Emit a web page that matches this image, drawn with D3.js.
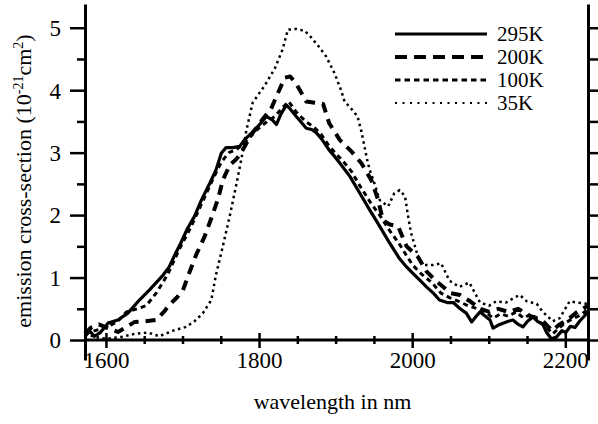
<!DOCTYPE html>
<html><head><meta charset="utf-8">
<script src="https://cdn.jsdelivr.net/npm/d3@7"></script>
<style>body{margin:0;background:#fff}svg{display:block}svg text{font-family:"Liberation Serif","DejaVu Serif",serif !important;fill:#000}</style>
</head><body><svg id="c" width="598" height="424" font-family="Liberation Serif, DejaVu Serif, serif"></svg>
<script>
const wl295=[1572,1578,1584,1592,1602,1615,1628,1643,1656,1665,1674,1682,1690,1697,1706,1715,1724,1735,1743,1750,1756,1765,1774,1780,1790,1800,1809,1817,1822,1828,1835,1840,1848,1855,1861,1868,1874,1881,1891,1898,1905,1918,1931,1944,1957,1970,1983,1992,2000,2010,2018,2027,2035,2045,2053,2062,2070,2077,2083,2088,2095,2101,2105,2112,2118,2125,2131,2138,2144,2150,2157,2163,2170,2175,2181,2188,2195,2200,2206,2212,2218,2224,2229];
const cs295=[0.05,0.15,0.06,0.12,0.27,0.32,0.43,0.64,0.80,0.92,1.04,1.17,1.38,1.55,1.79,1.98,2.24,2.51,2.72,2.99,3.08,3.08,3.10,3.20,3.32,3.45,3.58,3.52,3.45,3.62,3.76,3.70,3.58,3.48,3.39,3.37,3.32,3.22,3.04,2.94,2.83,2.62,2.35,2.08,1.82,1.55,1.30,1.17,1.07,0.95,0.85,0.75,0.64,0.60,0.60,0.50,0.43,0.29,0.38,0.45,0.38,0.32,0.19,0.24,0.27,0.30,0.32,0.25,0.21,0.30,0.37,0.30,0.25,0.12,0.02,0.05,0.15,0.12,0.22,0.20,0.30,0.38,0.45];
const wl200=[1572,1580,1590,1600,1615,1625,1637,1650,1665,1675,1682,1692,1700,1708,1717,1728,1737,1746,1752,1761,1770,1776,1790,1805,1815,1822,1833,1840,1848,1855,1861,1872,1883,1891,1905,1920,1933,1946,1955,1961,1970,1981,1992,2007,2018,2030,2040,2050,2062,2075,2088,2100,2112,2125,2138,2150,2162,2172,2182,2192,2205,2215,2229];
const cs200=[0.10,0.20,0.25,0.20,0.13,0.20,0.29,0.30,0.32,0.45,0.56,0.68,0.80,1.07,1.36,1.65,1.95,2.27,2.56,2.80,2.90,3.00,3.30,3.55,3.70,3.90,4.20,4.22,4.10,3.95,3.82,3.80,3.78,3.47,3.20,3.02,2.83,2.56,2.24,1.92,1.85,1.82,1.50,1.33,1.10,0.95,0.85,0.75,0.72,0.62,0.50,0.45,0.50,0.45,0.50,0.40,0.35,0.28,0.15,0.25,0.35,0.45,0.55];
const wl100=[1572,1585,1600,1615,1626,1640,1652,1665,1680,1695,1710,1725,1740,1750,1760,1770,1780,1795,1810,1820,1830,1838,1848,1860,1870,1880,1890,1900,1910,1920,1932,1945,1958,1970,1982,1992,2000,2012,2025,2037,2048,2060,2072,2085,2095,2105,2115,2125,2135,2145,2155,2165,2175,2183,2192,2200,2210,2220,2229];
const cs100=[0.10,0.15,0.20,0.30,0.45,0.50,0.55,0.75,1.05,1.45,1.80,2.20,2.60,2.85,3.00,3.05,3.15,3.35,3.50,3.58,3.72,3.82,3.65,3.50,3.42,3.30,3.12,2.98,2.85,2.70,2.45,2.20,1.98,1.75,1.55,1.35,1.20,1.05,0.92,0.75,0.68,0.62,0.55,0.50,0.45,0.35,0.42,0.38,0.45,0.35,0.42,0.30,0.20,0.10,0.20,0.28,0.35,0.40,0.50];
const wl35=[1572,1585,1600,1620,1637,1654,1669,1687,1704,1715,1726,1737,1743,1752,1761,1770,1776,1783,1791,1807,1820,1830,1837,1848,1859,1867,1876,1887,1898,1907,1911,1920,1928,1933,1937,1941,1944,1950,1957,1968,1976,1983,1990,1994,1998,2003,2007,2014,2027,2037,2048,2061,2074,2088,2100,2109,2122,2133,2140,2149,2162,2170,2183,2192,2205,2214,2229];
const cs35=[0.10,0.05,0.02,0.05,0.10,0.12,0.06,0.15,0.21,0.30,0.43,0.64,1.04,1.50,1.98,2.51,2.88,3.37,3.80,4.08,4.35,4.65,4.97,4.98,4.95,4.85,4.72,4.54,4.27,3.98,3.82,3.70,3.58,3.34,3.10,2.86,2.72,2.51,2.24,2.14,2.35,2.40,2.30,1.98,1.71,1.50,1.33,1.20,1.20,1.23,0.95,0.85,0.92,0.60,0.55,0.62,0.60,0.68,0.72,0.62,0.58,0.45,0.30,0.35,0.62,0.60,0.58];
const seriesNames=["295K","200K","100K","35K"];
const xMajor=[1600,1800,2000,2200];
const xMinor=[1650,1700,1750,1850,1900,1950,2050,2100,2150];
const yMajor=[0,1,2,3,4,5];
const yMinor=[0.5,1.5,2.5,3.5,4.5];

const FONT="Liberation Serif, DejaVu Serif, serif";
const styles=[
 {w:3.2,dash:null},
 {w:4,dash:"10,7"},
 {w:3,dash:"5,4"},
 {w:2.5,dash:"2.5,3.5"}
];
const series=[[wl295,cs295],[wl200,cs200],[wl100,cs100],[wl35,cs35]];

const svg=d3.select("#c");
const x=d3.scaleLinear().domain([1572,2229]).range([85,588]);
const y=d3.scaleLinear().domain([-0.32,5.38]).range([360,4]);

const line=d3.line().x(d=>x(d[0])).y(d=>y(d[1]));
series.forEach((s,i)=>{
  svg.append("path").datum(d3.zip(s[0],s[1]))
    .attr("d",line).attr("fill","none").attr("stroke","#000")
    .attr("stroke-width",styles[i].w)
    .attr("stroke-dasharray",styles[i].dash)
    .attr("stroke-linejoin","round");
});

const gL=svg.append("g").attr("transform",`translate(${x(1572)},0)`);
gL.call(d3.axisLeft(y).tickValues(yMajor).tickSize(15).tickSizeOuter(0).tickPadding(9).tickFormat(d3.format("d")));
gL.attr("font-family",FONT);
gL.append("g").call(d3.axisLeft(y).tickValues(yMinor).tickSize(8).tickSizeOuter(0).tickFormat(""))
  .select(".domain").remove();
const gR=svg.append("g").attr("transform",`translate(${x(2229)},0)`);
gR.call(d3.axisRight(y).tickValues(yMajor.concat(yMinor)).tickSize(10).tickSizeOuter(0).tickFormat(""));
svg.selectAll(".domain").attr("stroke-width",3);
svg.selectAll(".tick line").attr("stroke-width",2.5);
gL.selectAll(".tick text").attr("font-size",23).attr("font-family",FONT).attr("dy","0.34em");

const gX=svg.append("g").attr("font-family",FONT);
gX.append("line").attr("x1",x(1572)).attr("x2",x(2229)).attr("y1",y(0)).attr("y2",y(0))
  .attr("stroke","#000").attr("stroke-width",3);
gX.selectAll(".maj").data(xMajor).join("line")
  .attr("x1",d=>x(d)).attr("x2",d=>x(d)).attr("y1",y(0)-7).attr("y2",y(0)+8)
  .attr("stroke","#000").attr("stroke-width",2.5);
gX.selectAll(".min").data(xMinor).join("line")
  .attr("x1",d=>x(d)).attr("x2",d=>x(d)).attr("y1",y(0)-4).attr("y2",y(0)+4)
  .attr("stroke","#000").attr("stroke-width",2.5);
gX.selectAll(".lab").data(xMajor).join("text")
  .attr("x",d=>x(d)).attr("y",y(0)+28).attr("text-anchor","middle")
  .attr("font-family",FONT).attr("font-size",23).text(d=>d);

svg.append("text").attr("x",(x(1572)+x(2229))/2 - 4).attr("y",409).attr("text-anchor","middle")
  .attr("font-family",FONT).attr("font-size",22).text("wavelength in nm");
const yt=svg.append("text").attr("transform","translate(31,181) rotate(-90)")
  .attr("text-anchor","middle").attr("font-family",FONT).attr("font-size",22);
yt.append("tspan").text("emission cross-section (10");
yt.append("tspan").attr("dy",-8).attr("font-size",14).text("-21");
yt.append("tspan").attr("dy",8).text("cm");
yt.append("tspan").attr("dy",-8).attr("font-size",14).text("2");
yt.append("tspan").attr("dy",8).text(")");

const legY=[34,57,80,103];
const lg=svg.append("g").attr("font-family",FONT);
seriesNames.forEach((n,i)=>{
  lg.append("line").attr("x1",395).attr("x2",487).attr("y1",legY[i]).attr("y2",legY[i])
    .attr("stroke","#000").attr("stroke-width",i===3?2:styles[i].w)
    .attr("stroke-dasharray",i===3?"2,5.5":(i===2?"5.5,4":(i===1?"12,7":null)));
  lg.append("text").attr("x",497).attr("y",legY[i]+7).attr("font-family",FONT).attr("font-size",21).text(n);
});
</script></body></html>
